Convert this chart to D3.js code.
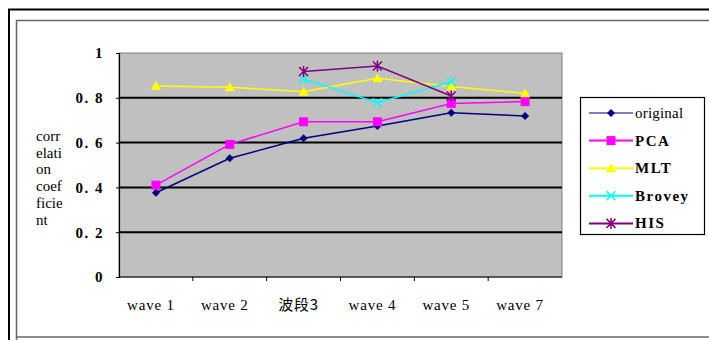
<!DOCTYPE html>
<html>
<head>
<meta charset="utf-8">
<script src="https://cdn.jsdelivr.net/npm/d3@7"></script>
<style>
  html, body { margin: 0; padding: 0; background: #fff; }
  svg { display: block; }
</style>
</head>
<body>
<svg id="chart" width="709" height="340"></svg>
<script>
// Categories along the x axis
const categories = ["wave 1", "wave 2", "波段3", "wave 4", "wave 5", "wave 7"];

// Correlation coefficient per fusion method (null = not computed)
const original = [0.376, 0.53, 0.619, 0.674, 0.733, 0.719];
const pca      = [0.41, 0.592, 0.693, 0.693, 0.775, 0.783];
const mlt      = [0.853, 0.847, 0.827, 0.887, 0.85, 0.82];
const brovey   = [null, null, 0.884, 0.778, 0.872, null];
const his      = [null, null, 0.917, 0.942, 0.808, null];

const seriesNames = ["original", "PCA", "MLT", "Brovey", "HIS"];
const yTickValues = [0, 0.2, 0.4, 0.6, 0.8, 1];
const yTickLabels = ["0", "0. 2", "0. 4", "0. 6", "0. 8", "1"];
const yTitleLines = ["corr", "elati", "on", "coef", "ficie", "nt"];

const series = [
  { name: seriesNames[0], values: original, color: "#000080", marker: "diamond", width: 1.5 },
  { name: seriesNames[1], values: pca,      color: "#FF00FF", marker: "square",  width: 1.5 },
  { name: seriesNames[2], values: mlt,      color: "#FFFF00", marker: "triangle",width: 1.5 },
  { name: seriesNames[3], values: brovey,   color: "#00FFFF", marker: "cross",   width: 1.5 },
  { name: seriesNames[4], values: his,      color: "#800080", marker: "star",    width: 1.5 }
];

const svg = d3.select("#chart");
const serif = "'Liberation Serif', 'DejaVu Serif', serif";

// Double frame around the chart
svg.append("path").attr("d", "M9,340 V9.5 H709").attr("fill", "none").attr("stroke", "#000").attr("stroke-width", 2);
svg.append("path").attr("d", "M16.5,340 V20.5 H709").attr("fill", "none").attr("stroke", "#666").attr("stroke-width", 1.5);
svg.append("line").attr("x1", 16).attr("x2", 709).attr("y1", 337).attr("y2", 337).attr("stroke", "#666").attr("stroke-width", 1.5);

const plot = { left: 119, right: 562, top: 53, bottom: 277 };

const x = d3.scaleBand().domain(categories).range([plot.left, plot.right]);
const y = d3.scaleLinear().domain([0, 1]).range([plot.bottom, plot.top]);

// Plot background
svg.append("rect")
  .attr("x", plot.left).attr("y", plot.top)
  .attr("width", plot.right - plot.left).attr("height", plot.bottom - plot.top)
  .attr("fill", "#C0C0C0").attr("stroke", "#808080").attr("stroke-width", 1);

// Horizontal gridlines
svg.append("g").selectAll("line")
  .data(yTickValues.filter(v => v > 0 && v < 1))
  .join("line")
  .attr("x1", plot.left).attr("x2", plot.right)
  .attr("y1", d => y(d)).attr("y2", d => y(d))
  .attr("stroke", "#000").attr("stroke-width", 2);

// Y axis
const yAxis = d3.axisLeft(y).tickValues(yTickValues)
  .tickFormat((d, i) => yTickLabels[i]).tickSize(3).tickPadding(12);
const gy = svg.append("g").attr("transform", `translate(${plot.left},0)`).call(yAxis);
gy.select(".domain").attr("stroke", "#000").attr("stroke-width", 1.2);
gy.selectAll(".tick line").attr("stroke", "#000");
gy.selectAll(".tick text")
  .attr("font-family", serif).attr("font-size", 15).attr("font-weight", "bold")
  .attr("letter-spacing", 1.5)
  .attr("fill", "#000");

// X axis with ticks between categories
svg.append("line")
  .attr("x1", plot.left).attr("x2", plot.right)
  .attr("y1", plot.bottom).attr("y2", plot.bottom)
  .attr("stroke", "#000").attr("stroke-width", 1.2);
svg.append("g").selectAll("line")
  .data(categories.slice(1))
  .join("line")
  .attr("x1", d => x(d)).attr("x2", d => x(d))
  .attr("y1", plot.bottom).attr("y2", plot.bottom + 4)
  .attr("stroke", "#000");
svg.append("g").selectAll("text")
  .data(categories)
  .join("text")
  .attr("x", d => x(d) + x.bandwidth() / 2 - 5)
  .attr("y", 310)
  .attr("text-anchor", "middle")
  .attr("font-family", d => /[\u4e00-\u9fff]/.test(d) ? "'Noto Sans CJK SC', sans-serif" : serif)
  .attr("font-size", d => /[\u4e00-\u9fff]/.test(d) ? 15 : 15)
  .attr("letter-spacing", 0.8)
  .attr("fill", "#000")
  .text(d => d);

// Y title, wrapped in short lines
svg.append("g").selectAll("text")
  .data(yTitleLines)
  .join("text")
  .attr("x", 36)
  .attr("y", (d, i) => 141 + i * 16.7)
  .attr("font-family", serif).attr("font-size", 15).attr("fill", "#000")
  .text(d => d);

// Marker drawing
function drawMarker(g, type, color, size) {
  const s = size;
  if (type === "diamond") {
    g.append("path").attr("d", `M0,${-s} L${s},0 L0,${s} L${-s},0 Z`).attr("fill", color);
  } else if (type === "square") {
    g.append("rect").attr("x", -s).attr("y", -s).attr("width", 2 * s).attr("height", 2 * s).attr("fill", color);
  } else if (type === "triangle") {
    g.append("path").attr("d", `M0,${-s} L${s},${s * 0.8} L${-s},${s * 0.8} Z`).attr("fill", color);
  } else if (type === "cross") {
    g.append("path").attr("d", `M${-s},${-s} L${s},${s} M${-s},${s} L${s},${-s}`)
      .attr("stroke", color).attr("stroke-width", 1.5);
  } else if (type === "star") {
    g.append("path").attr("d", `M${-s},${-s} L${s},${s} M${-s},${s} L${s},${-s} M0,${-s - 1} L0,${s + 1}`)
      .attr("stroke", color).attr("stroke-width", 1.5);
  }
}

const markerSize = { diamond: 4, square: 4.5, triangle: 5, cross: 4.5, star: 4.5 };

const line = d3.line()
  .defined(d => d.v !== null)
  .x(d => x(d.c) + x.bandwidth() / 2)
  .y(d => y(d.v));

const lines = svg.append("g");
series.forEach(s => {
  const pts = categories.map((c, i) => ({ c, v: s.values[i] }));
  lines.append("path")
    .attr("d", line(pts))
    .attr("fill", "none")
    .attr("stroke", s.color)
    .attr("stroke-width", s.width);
});
series.forEach(s => {
  categories.forEach((c, i) => {
    const v = s.values[i];
    if (v === null) return;
    const g = lines.append("g")
      .attr("transform", `translate(${x(c) + x.bandwidth() / 2},${y(v)})`);
    drawMarker(g, s.marker, s.color, markerSize[s.marker]);
  });
});

// Legend
const legend = svg.append("g");
legend.append("rect")
  .attr("x", 580.5).attr("y", 97.5).attr("width", 124).attr("height", 137)
  .attr("fill", "#fff").attr("stroke", "#000").attr("stroke-width", 1.2);
series.forEach((s, i) => {
  const ly = 113 + i * 27.6;
  legend.append("line")
    .attr("x1", 589).attr("x2", 633).attr("y1", ly).attr("y2", ly)
    .attr("stroke", s.color).attr("stroke-width", i === 0 ? 1.2 : 2);
  const g = legend.append("g").attr("transform", `translate(611,${ly})`);
  drawMarker(g, s.marker, s.color, markerSize[s.marker]);
  legend.append("text")
    .attr("x", 635).attr("y", ly + 5)
    .attr("font-family", serif).attr("font-size", 15)
    .attr("font-weight", i === 0 ? "normal" : "bold")
    .attr("letter-spacing", i === 0 ? 0.2 : 1.5)
    .attr("fill", "#000")
    .text(s.name);
});
</script>
</body>
</html>
